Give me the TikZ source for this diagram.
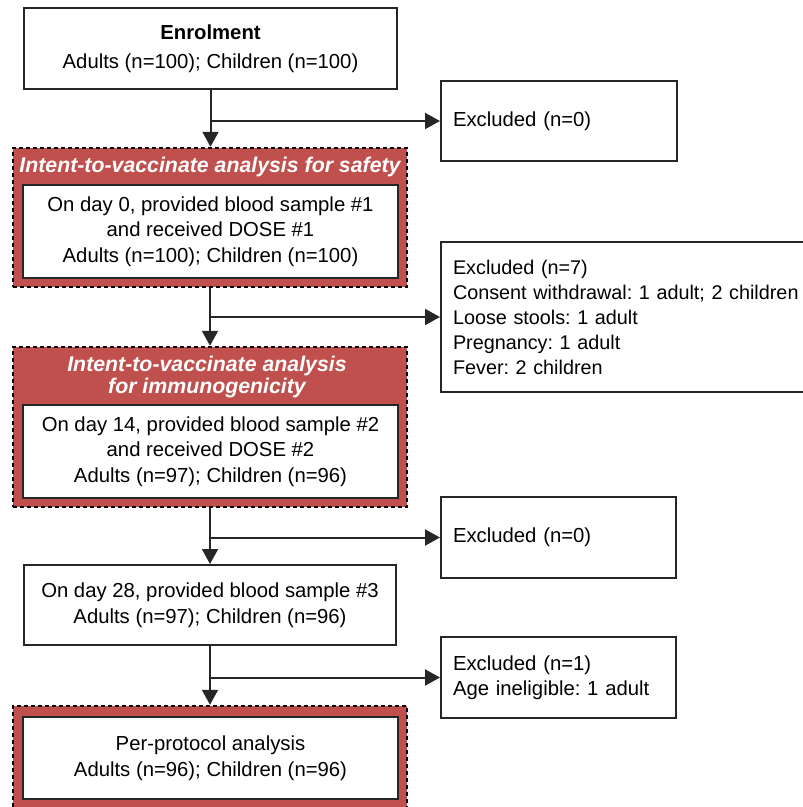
\documentclass[tikz,border=0pt]{standalone}
\usepackage{fontspec}
\setmainfont{Liberation Sans}
\usetikzlibrary{arrows.meta}
\definecolor{rahmenrot}{HTML}{C0504D}
\definecolor{linie}{HTML}{262626}
\frenchspacing

\begin{document}
\begin{tikzpicture}[x=1pt,y=-1pt,
	box/.style={draw=linie,fill=white,line width=2pt,inner sep=0pt,align=center,font=\fontsize{20.3}{25.5}\selectfont},
	exbox/.style={box,align=left,inner xsep=12pt,anchor=west},
	rot/.style={draw=black,fill=rahmenrot,line width=2.5pt,dash pattern=on 4pt off 3pt,inner sep=0pt},
	titel/.style={text=white,align=center,font=\fontsize{21.3}{22}\selectfont\bfseries\itshape},
	pfeil/.style={-{Triangle[length=15pt,width=16pt]},line width=2pt,draw=linie}]
	\clip (0,0) rectangle (803,807);
	%\draw[step=50,gray!30] (0,0) grid (803,807); %Hilfsgitter
	% rote Rahmen
	\node[rot,minimum width=394pt,minimum height=139pt] (safety) at (210,217.5) {};
	\node[rot,minimum width=394pt,minimum height=160pt] (immuno) at (210,427) {};
	\node[rot,minimum width=394pt,minimum height=109pt] (perprot) at (210,760.5) {};
	\node[titel] (tsafety) at (210,167) {Intent-to-vaccinate analysis for safety};
	\node[titel] (timmuno) at (207,377) {Intent-to-vaccinate analysis\\for immunogenicity};
	% linke Spalte
	\node[box,minimum width=373pt,minimum height=81pt] (enrol) at (210.5,48.5) {\textbf{Enrolment}\\[3pt]Adults (n=100); Children (n=100)};
	\node[box,minimum width=375pt,minimum height=93pt] (day0) at (210.5,231.5) {On day 0, provided blood sample \#1\\and received DOSE \#1\\Adults (n=100); Children (n=100)};
	\node[box,minimum width=375pt,minimum height=93pt] (day14) at (210.5,451.5) {On day 14, provided blood sample \#2\\and received DOSE \#2\\Adults (n=97); Children (n=96)};
	\node[box,minimum width=372pt,minimum height=80pt] (day28) at (210,605) {On day 28, provided blood sample \#3\\Adults (n=97); Children (n=96)};
	\node[box,minimum width=375pt,minimum height=82pt] (pp) at (210.5,758) {Per-protocol analysis\\Adults (n=96); Children (n=96)};
	% rechte Spalte
	\node[exbox,text width=212pt,minimum height=80pt] (ex1) at (440,121) {Excluded (n=0)};
	\node[exbox,text width=360pt,minimum height=150pt,font=\fontsize{19.8}{25}\selectfont] (ex2) at (440,317) {Excluded (n=7)\\Consent withdrawal: 1 adult; 2 children\\Loose stools: 1 adult\\Pregnancy: 1 adult\\Fever: 2 children};
	\node[exbox,text width=211pt,minimum height=81pt] (ex3) at (440,537.5) {Excluded (n=0)};
	\node[exbox,text width=211pt,minimum height=81pt] (ex4) at (440,677.5) {Excluded (n=1)\\Age ineligible: 1 adult};
	% Pfeile
	\draw[pfeil] (enrol.south) -- (enrol.south |- safety.north);
	\draw[pfeil] (enrol.south |- ex1.west) -- (ex1.west);
	\draw[pfeil] (safety.south) -- (immuno.north);
	\draw[pfeil] (safety.south |- ex2.west) -- (ex2.west);
	\draw[pfeil] (immuno.south) -- (immuno.south |- day28.north);
	\draw[pfeil] (immuno.south |- ex3.west) -- (ex3.west);
	\draw[pfeil] (day28.south) -- (day28.south |- perprot.north);
	\draw[pfeil] (day28.south |- ex4.west) -- (ex4.west);
\end{tikzpicture}
\end{document}
